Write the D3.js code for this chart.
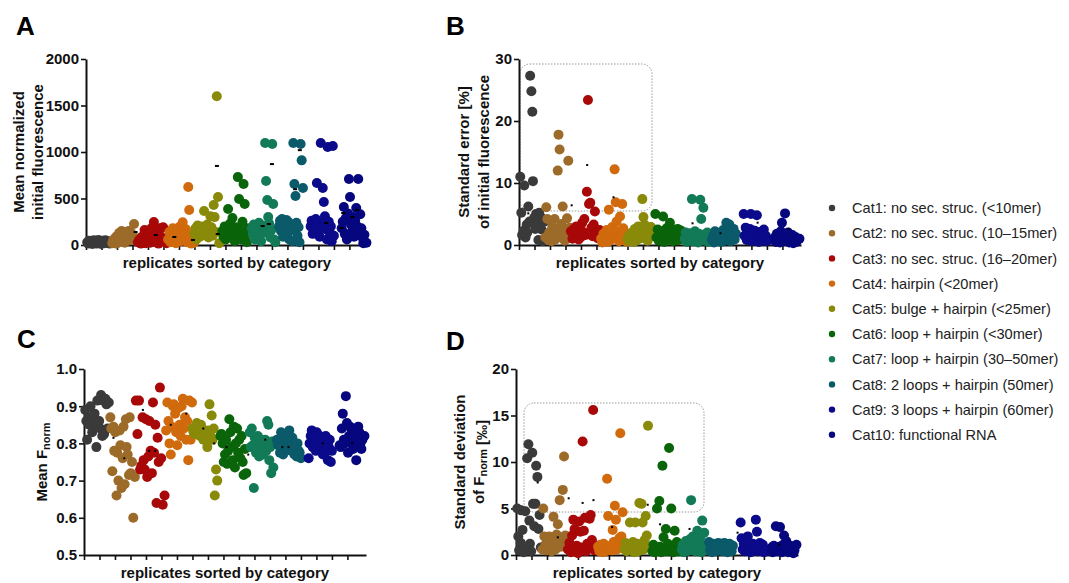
<!DOCTYPE html>
<html>
<head>
<meta charset="utf-8">
<script src="https://cdn.jsdelivr.net/npm/d3@7"></script>
<style>
  body { margin: 0; background: #fff; }
  svg { display: block; }
  text { font-family: "Liberation Sans", Arial, sans-serif; }
</style>
</head>
<body>
<script>
// legend categories and dot colours
var categories = [
  "Cat1: no sec. struc. (<10mer)",
  "Cat2: no sec. struc. (10\u201315mer)",
  "Cat3: no sec. struc. (16\u201320mer)",
  "Cat4: hairpin (<20mer)",
  "Cat5: bulge + hairpin (<25mer)",
  "Cat6: loop + hairpin (<30mer)",
  "Cat7: loop + hairpin (30\u201350mer)",
  "Cat8: 2 loops + hairpin (50mer)",
  "Cat9: 3 loops + hairpin (60mer)",
  "Cat10: functional RNA"
];
var catColors = ["#3a3a3a", "#9c6b2a", "#a80808", "#d06a0c", "#8a8a0a",
                 "#0a640a", "#137a57", "#0b5a6a", "#0a0a8a", "#06067e"];

// x position of every replicate (in column units), one list per category
var replicateX = [
  [0.08, 0.15, 0.2, 0.3, 0.34, 0.42, 0.5, 0.53, 0.6, 0.68, 0.72, 0.8, 0.86, 0.9, 0.98, 1.05, 1.1, 1.18, 1.25, 1.3, 1.38, 1.45, 1.52, 1.6],
  [1.7, 1.76, 1.83, 1.9, 1.95, 2.02, 2.1, 2.15, 2.22, 2.3, 2.35, 2.42, 2.5, 2.55, 2.62, 2.7, 2.75, 2.82, 2.9, 2.95, 3.02, 3.1, 3.18, 3.28],
  [3.35, 3.45, 3.55, 3.62, 3.7, 3.78, 3.85, 3.92, 4.0, 4.08, 4.15, 4.22, 4.3, 4.38, 4.45, 4.52, 4.6, 4.68, 4.75, 4.82, 4.9, 4.98, 5.08, 5.2],
  [5.3, 5.38, 5.45, 5.52, 5.6, 5.66, 5.74, 5.8, 5.88, 5.95, 6.02, 6.1, 6.17, 6.24, 6.3, 6.38, 6.45, 6.52, 6.6, 6.66, 6.73, 6.8, 6.88, 6.97],
  [7.0, 7.07, 7.13, 7.2, 7.28, 7.35, 7.42, 7.48, 7.55, 7.62, 7.7, 7.76, 7.83, 7.9, 7.96, 8.03, 8.1, 8.17, 8.24, 8.3, 8.37, 8.44, 8.52, 8.6],
  [8.8, 8.87, 8.95, 9.02, 9.1, 9.17, 9.25, 9.3, 9.38, 9.45, 9.52, 9.6, 9.67, 9.74, 9.8, 9.88, 9.95, 10.02, 10.1, 10.17, 10.24, 10.3, 10.38, 10.47],
  [10.7, 10.76, 10.83, 10.9, 10.96, 11.02, 11.1, 11.16, 11.22, 11.3, 11.36, 11.42, 11.5, 11.56, 11.62, 11.7, 11.76, 11.82, 11.9, 11.96, 12.02, 12.08, 12.15, 12.22],
  [12.45, 12.52, 12.58, 12.65, 12.72, 12.78, 12.85, 12.92, 12.98, 13.05, 13.12, 13.18, 13.25, 13.32, 13.38, 13.45, 13.52, 13.58, 13.65, 13.72, 13.78, 13.85, 13.92, 14.0],
  [14.5, 14.56, 14.63, 14.7, 14.76, 14.83, 14.9, 14.96, 15.02, 15.08, 15.15, 15.22, 15.28, 15.35, 15.42, 15.48, 15.55, 15.6, 15.67, 15.74, 15.8, 15.86, 15.93, 16.0],
  [16.5, 16.57, 16.64, 16.7, 16.77, 16.84, 16.9, 16.97, 17.04, 17.1, 17.17, 17.24, 17.3, 17.37, 17.44, 17.5, 17.57, 17.64, 17.7, 17.77, 17.84, 17.9, 17.97, 18.1]
];

// A: mean normalized initial fluorescence
var fluorMean = [
  [30, 15, 45, 20, 35, 10, 50, 25, 40, 15, 30, 55, 20, 38, 12, 45, 28, 18, 50, 33, 22, 40, 15, 30],
  [20, 55, 35, 80, 15, 100, 60, 130, 40, 150, 90, 120, 25, 140, 70, 110, 150, 50, 130, 85, 105, 226, 60, 40],
  [30, 60, 15, 90, 40, 160, 20, 70, 110, 45, 25, 180, 85, 247, 35, 130, 60, 15, 180, 95, 40, 190, 55, 20],
  [60, 140, 30, 95, 180, 50, 110, 20, 150, 75, 194, 40, 120, 245, 85, 60, 170, 30, 624, 376, 100, 15, 55, 25],
  [120, 180, 60, 210, 140, 90, 150, 200, 110, 366, 170, 130, 220, 80, 160, 310, 190, 100, 430, 300, 140, 1600, 516, 20],
  [150, 90, 200, 60, 170, 387, 120, 230, 80, 290, 140, 40, 190, 100, 730, 494, 160, 60, 250, 655, 441, 110, 30, 180],
  [180, 120, 220, 60, 200, 150, 90, 240, 170, 40, 210, 130, 190, 1097, 688, 484, 300, 230, 80, 160, 1086, 441, 60, 30],
  [200, 260, 150, 280, 90, 230, 180, 270, 120, 250, 60, 210, 160, 40, 1097, 655, 527, 240, 100, 190, 30, 1086, 910, 613],
  [200, 260, 120, 230, 180, 280, 667, 150, 240, 90, 1097, 210, 613, 462, 310, 170, 60, 1054, 250, 130, 200, 40, 1065, 100],
  [180, 250, 408, 120, 290, 60, 340, 710, 516, 220, 150, 300, 90, 260, 398, 200, 710, 130, 330, 180, 80, 20, 110, 25]
];

// B: standard error [%] of initial fluorescence
var fluorSE = [
  [11, 5.2, 1.6, 2.3, 9.6, 1.2, 3.3, 2.0, 6.2, 3.8, 27.3, 24.8, 21.5, 10.3, 4.4, 2.6, 5.0, 3.6, 0.8, 5.2, 4.6, 2.5, 0.6, 3.7],
  [1.2, 6.1, 4.2, 0.8, 2.0, 1.5, 0.6, 3.0, 1.8, 4.2, 0.9, 2.4, 12.0, 17.8, 15.4, 1.3, 3.4, 6.2, 2.2, 0.7, 1.9, 4.3, 13.6, 2.8],
  [2.2, 1.0, 2.6, 1.5, 3.0, 2.0, 0.9, 2.5, 1.3, 3.6, 2.1, 4.2, 1.6, 8.6, 23.4, 6.6, 6.8, 2.8, 1.4, 3.3, 5.4, 2.0, 1.1, 2.4],
  [1.0, 0.4, 1.8, 0.7, 1.3, 2.4, 0.5, 5.7, 1.6, 0.9, 2.9, 1.2, 12.2, 6.9, 3.8, 2.2, 0.6, 4.6, 1.5, 6.6, 2.7, 0.8, 1.9, 0.5],
  [1.0, 0.6, 1.6, 0.9, 2.0, 1.2, 0.5, 2.6, 1.4, 0.8, 3.0, 1.8, 2.4, 1.1, 7.4, 4.5, 3.3, 1.7, 2.8, 0.7, 2.2, 1.3, 2.9, 1.9],
  [5.0, 1.2, 2.5, 0.7, 1.8, 1.0, 2.2, 4.6, 0.5, 1.5, 2.7, 0.9, 1.9, 3.6, 1.3, 2.4, 0.6, 1.7, 2.1, 1.0, 2.6, 0.8, 1.6, 2.3],
  [1.0, 2.0, 0.5, 1.6, 0.8, 1.9, 1.2, 7.4, 0.6, 1.5, 2.2, 0.9, 1.4, 0.4, 1.8, 7.3, 4.2, 1.1, 6.0, 1.7, 0.7, 1.3, 2.0, 0.5],
  [0.8, 1.5, 0.4, 2.2, 1.0, 0.6, 1.3, 0.9, 1.9, 0.5, 1.2, 2.4, 0.7, 1.6, 3.6, 2.9, 1.1, 3.3, 0.6, 2.0, 1.4, 2.6, 0.9, 1.8],
  [5.0, 1.5, 2.8, 0.8, 2.0, 1.2, 2.6, 5.0, 0.6, 1.8, 1.1, 2.3, 0.9, 4.8, 1.6, 0.5, 2.1, 1.3, 0.7, 1.9, 2.5, 1.0, 1.5, 0.6],
  [1.2, 0.5, 1.8, 0.9, 1.4, 0.4, 2.2, 3.6, 1.0, 0.6, 5.1, 1.5, 0.8, 2.0, 0.4, 1.1, 0.7, 1.6, 0.3, 0.9, 1.3, 0.5, 0.8, 1.0]
];

// C: mean F_norm
var fnormMean = [
  [0.89, 0.86, 0.81, 0.87, 0.85, 0.9, 0.865, 0.83, 0.86, 0.88, 0.845, 0.79, 0.915, 0.85, 0.86, 0.84, 0.93, 0.82, 0.915, 0.825, 0.92, 0.905, 0.84, 0.91],
  [0.87, 0.84, 0.725, 0.845, 0.78, 0.83, 0.66, 0.775, 0.70, 0.835, 0.795, 0.68, 0.76, 0.845, 0.69, 0.865, 0.79, 0.77, 0.715, 0.87, 0.72, 0.75, 0.60, 0.71],
  [0.915, 0.825, 0.915, 0.73, 0.74, 0.87, 0.755, 0.73, 0.865, 0.71, 0.765, 0.86, 0.78, 0.72, 0.91, 0.775, 0.85, 0.64, 0.815, 0.75, 0.95, 0.76, 0.635, 0.66],
  [0.835, 0.91, 0.86, 0.80, 0.77, 0.845, 0.90, 0.905, 0.88, 0.83, 0.795, 0.895, 0.85, 0.82, 0.90, 0.92, 0.84, 0.87, 0.81, 0.86, 0.755, 0.915, 0.81, 0.91],
  [0.84, 0.83, 0.825, 0.845, 0.855, 0.83, 0.835, 0.82, 0.85, 0.84, 0.81, 0.825, 0.83, 0.815, 0.79, 0.835, 0.905, 0.82, 0.875, 0.81, 0.84, 0.66, 0.73, 0.70],
  [0.82, 0.825, 0.80, 0.75, 0.77, 0.81, 0.745, 0.78, 0.865, 0.83, 0.79, 0.755, 0.845, 0.735, 0.80, 0.84, 0.775, 0.81, 0.76, 0.82, 0.75, 0.715, 0.785, 0.72],
  [0.83, 0.79, 0.84, 0.795, 0.68, 0.815, 0.775, 0.80, 0.82, 0.765, 0.80, 0.81, 0.785, 0.77, 0.795, 0.81, 0.78, 0.86, 0.85, 0.755, 0.79, 0.72, 0.805, 0.735],
  [0.81, 0.795, 0.80, 0.775, 0.83, 0.79, 0.77, 0.815, 0.785, 0.805, 0.785, 0.80, 0.835, 0.79, 0.78, 0.815, 0.795, 0.77, 0.79, 0.765, 0.80, 0.78, 0.775, 0.76],
  [0.76, 0.80, 0.82, 0.835, 0.79, 0.805, 0.815, 0.78, 0.83, 0.80, 0.785, 0.82, 0.795, 0.81, 0.77, 0.80, 0.775, 0.82, 0.79, 0.755, 0.79, 0.81, 0.75, 0.78],
  [0.795, 0.79, 0.84, 0.88, 0.81, 0.80, 0.927, 0.855, 0.775, 0.82, 0.845, 0.80, 0.83, 0.785, 0.80, 0.825, 0.755, 0.81, 0.845, 0.83, 0.80, 0.785, 0.81, 0.82]
];

// D: standard deviation of F_norm [permille]
var fnormSD = [
  [5.0, 2.0, 0.5, 1.3, 4.8, 2.7, 0.3, 0.9, 4.7, 0.6, 10.4, 11.9, 3.7, 1.2, 0.4, 11.0, 5.5, 3.1, 5.5, 9.6, 8.4, 2.8, 4.3, 0.8],
  [0.6, 5.0, 2.0, 1.1, 0.5, 1.6, 0.8, 2.0, 1.3, 0.4, 1.8, 4.1, 1.0, 0.6, 2.2, 3.3, 1.4, 5.9, 0.9, 1.9, 7.0, 10.6, 2.1, 1.2],
  [0.6, 1.3, 0.3, 2.1, 3.8, 2.8, 0.5, 1.0, 0.2, 3.6, 2.5, 0.8, 12.2, 2.6, 4.0, 0.4, 1.2, 0.7, 3.9, 4.3, 1.6, 15.6, 0.5, 1.0],
  [0.9, 0.4, 1.1, 0.6, 0.3, 1.2, 0.7, 0.4, 8.2, 4.2, 0.8, 1.0, 0.5, 2.7, 1.4, 5.3, 3.8, 0.6, 1.1, 1.8, 13.1, 2.0, 4.6, 1.3],
  [0.6, 1.3, 0.4, 0.9, 1.1, 3.5, 0.5, 0.8, 1.4, 0.3, 3.5, 0.7, 1.2, 0.4, 5.6, 0.9, 5.5, 3.5, 0.6, 1.6, 4.2, 2.1, 13.9, 0.8],
  [0.4, 1.1, 0.3, 0.7, 5.0, 0.5, 5.8, 0.9, 0.3, 9.6, 1.9, 0.6, 2.8, 0.4, 1.2, 11.5, 0.5, 5.0, 0.8, 0.3, 2.6, 0.6, 1.4, 0.4],
  [0.6, 1.1, 0.3, 0.8, 1.5, 0.4, 1.0, 0.5, 1.7, 5.9, 0.7, 2.0, 1.2, 0.4, 0.9, 2.6, 1.4, 0.6, 1.9, 0.3, 3.7, 1.0, 2.4, 0.5],
  [1.4, 0.5, 0.9, 0.3, 1.2, 0.6, 1.1, 0.4, 0.8, 1.3, 0.5, 0.9, 1.2, 0.4, 0.7, 1.3, 0.5, 1.0, 0.3, 0.8, 1.2, 0.6, 0.4, 1.0],
  [3.5, 1.8, 0.6, 1.2, 0.4, 0.9, 1.3, 2.0, 0.5, 1.0, 0.3, 0.8, 1.2, 0.6, 1.1, 3.8, 2.5, 0.4, 0.9, 1.3, 0.5, 0.8, 1.1, 0.3],
  [0.8, 0.3, 1.0, 0.5, 3.1, 0.7, 0.4, 0.9, 3.0, 0.6, 0.3, 1.1, 2.1, 0.5, 1.5, 0.8, 0.3, 0.6, 1.0, 0.4, 0.7, 0.2, 0.5, 1.1]
];

// small black mean marks [column, value]
var meansA = [[8.45, 850], [12.0, 870], [13.8, 1020], [13.5, 600], [3.2, 140], [4.5, 107], [5.7, 86], [6.9, 54],
              [8.5, 118], [11.4, 204], [11.8, 226], [15.5, 237], [16.5, 183], [16.6, 344], [17.2, 301], [17.5, 376]];
var meansB = [[4.4, 12.9], [6.1, 7.7], [3.4, 6.4], [0.6, 5.1], [15.4, 3.6], [11.2, 3.5], [13.0, 1.9], [17.4, 2.6]];
var meansC = [[3.8, 0.89], [1.9, 0.815], [2.6, 0.76], [4.2, 0.78], [4.6, 0.78], [5.6, 0.85], [6.6, 0.88], [7.7, 0.84],
              [8.4, 0.8], [9.2, 0.79], [10.6, 0.77], [11.7, 0.81], [12.8, 0.79], [13.2, 0.79], [15.4, 0.8], [17.3, 0.8]];
var meansD = [[1.4, 7.8], [3.4, 6.1], [4.3, 5.6], [5.0, 5.9], [8.5, 5.4], [2.7, 1.9], [6.2, 3.0], [9.3, 3.3],
              [11.2, 2.8], [14.3, 2.4], [17.0, 1.1]];

var ticksA = [0, 500, 1000, 1500, 2000];
var ticksB = [0, 10, 20, 30];
var ticksC = [0.5, 0.6, 0.7, 0.8, 0.9, 1.0];
var ticksD = [0, 5, 10, 15, 20];
var columnTicks = d3.range(18);

var svg = d3.select("body").append("svg")
    .attr("width", 1069)
    .attr("height", 583);

function drawPanel(p) {
    var x = d3.scaleLinear().domain([0, 18.2]).range([p.left, p.left + 282]);
    var y = d3.scaleLinear().domain(p.domain).range([p.bottom, p.top]);
    var g = svg.append("g");

    if (p.box) {
        g.append("rect")
            .attr("x", p.box[0]).attr("y", p.box[1])
            .attr("width", p.box[2]).attr("height", p.box[3])
            .attr("rx", 10).attr("ry", 10)
            .attr("fill", "none")
            .attr("stroke", "#9a9a9a")
            .attr("stroke-width", 1)
            .attr("stroke-dasharray", "1.5,1.5");
    }

    var xaxis = g.append("g")
        .attr("transform", "translate(0," + p.bottom + ")")
        .call(d3.axisBottom(x).tickValues(columnTicks).tickFormat("").tickSize(5).tickSizeOuter(0));
    var yaxis = g.append("g")
        .attr("transform", "translate(" + p.left + ",0)")
        .call(d3.axisLeft(y).tickValues(p.ticks).tickFormat(p.fmt).tickSize(5).tickSizeOuter(0));

    [xaxis, yaxis].forEach(function(ax) {
        ax.select(".domain").attr("stroke", "#111").attr("stroke-width", 2);
        ax.selectAll(".tick line").attr("stroke", "#111").attr("stroke-width", 1.6);
    });
    yaxis.attr("font-family", null).attr("font-size", 15).attr("font-weight", "bold");
    yaxis.selectAll(".tick text").attr("fill", "#111").attr("x", -7);

    // replicate dots, category by category
    p.values.forEach(function(vals, c) {
        g.append("g").selectAll("circle")
            .data(vals)
            .enter().append("circle")
            .attr("cx", function(d, i) { return x(replicateX[c][i]); })
            .attr("cy", function(d) { return y(d); })
            .attr("r", 5)
            .attr("fill", catColors[c]);
    });

    g.append("g").selectAll("rect")
        .data(p.means)
        .enter().append("rect")
        .attr("x", function(d) { return x(d[0]) - p.markW / 2; })
        .attr("y", function(d) { return y(d[1]) - 1; })
        .attr("width", p.markW)
        .attr("height", 2)
        .attr("fill", "#000");

    // panel letter
    svg.append("text")
        .attr("x", p.letterPos[0]).attr("y", p.letterPos[1])
        .attr("font-size", 26).attr("font-weight", "bold").attr("fill", "#000")
        .text(p.letter);

    // x title
    svg.append("text")
        .attr("x", p.left + 141).attr("y", p.bottom + 23)
        .attr("text-anchor", "middle")
        .attr("font-size", 15).attr("font-weight", "bold").attr("fill", "#111")
        .text("replicates sorted by category");

    // y title lines
    var cy = (p.top + p.bottom) / 2;
    p.ytitle.forEach(function(line, k) {
        var t = svg.append("text")
            .attr("transform", "translate(" + p.ytitleX[k] + "," + cy + ") rotate(-90)")
            .attr("text-anchor", "middle")
            .attr("dy", "0.36em")
            .attr("font-size", 15).attr("font-weight", "bold").attr("fill", "#111");
        line.forEach(function(part) {
            if (part.sub) {
                t.append("tspan").attr("font-size", 11).attr("dy", 3).text(part.sub);
                t.append("tspan").attr("dy", -3).text("");
            } else {
                t.append("tspan").text(part.t);
            }
        });
    });
}

drawPanel({
    letter: "A", letterPos: [16, 35],
    left: 86, top: 59, bottom: 245, domain: [0, 2000], ticks: ticksA, fmt: d3.format("d"),
    values: fluorMean, means: meansA, markW: 4,
    ytitle: [[{t: "Mean normalized"}], [{t: "initial fluorescence"}]], ytitleX: [19, 38]
});
drawPanel({
    letter: "B", letterPos: [446, 35],
    left: 519, top: 59, bottom: 245, domain: [0, 30], ticks: ticksB, fmt: d3.format("d"),
    values: fluorSE, means: meansB, markW: 2,
    box: [520, 64, 132, 147],
    ytitle: [[{t: "Standard error [%]"}], [{t: "of initial fluorescence"}]], ytitleX: [464, 484]
});
drawPanel({
    letter: "C", letterPos: [17, 348],
    left: 84, top: 369, bottom: 555, domain: [0.5, 1.0], ticks: ticksC, fmt: d3.format(".1f"),
    values: fnormMean, means: meansC, markW: 2,
    ytitle: [[{t: "Mean F"}, {sub: "norm"}]], ytitleX: [42]
});
drawPanel({
    letter: "D", letterPos: [446, 350],
    left: 516, top: 369, bottom: 555, domain: [0, 20], ticks: ticksD, fmt: d3.format("d"),
    values: fnormSD, means: meansD, markW: 2,
    box: [524, 403, 180, 109],
    ytitle: [[{t: "Standard deviation"}], [{t: "of F"}, {sub: "norm"}, {t: " [\u2030]"}]], ytitleX: [460, 479]
});

// legend
var legend = svg.append("g").selectAll("g")
    .data(categories)
    .enter().append("g")
    .attr("transform", function(d, i) { return "translate(832," + (208 + i * 25.2) + ")"; });
legend.append("circle")
    .attr("r", 3.2)
    .attr("fill", function(d, i) { return catColors[i]; });
legend.append("text")
    .attr("x", 20)
    .attr("dy", "0.35em")
    .attr("font-size", 14.6)
    .attr("fill", "#222")
    .text(function(d) { return d; });
</script>
</body>
</html>
